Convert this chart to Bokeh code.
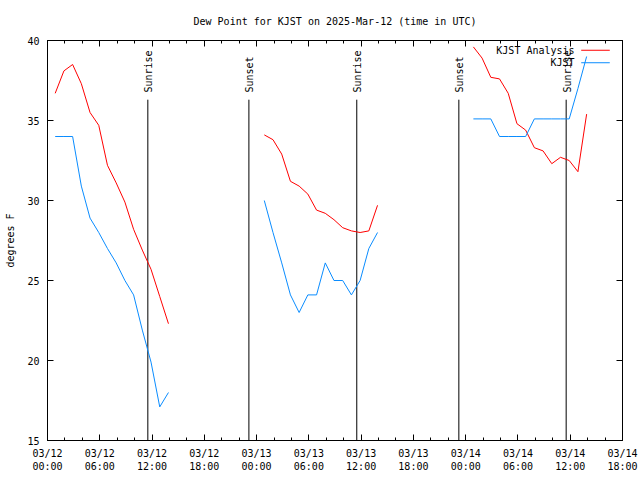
import math
import pandas as pd
from bokeh.plotting import figure
from bokeh.models import Range1d, FixedTicker, LinearAxis
from bokeh.core.properties import value
from bokeh.embed import file_html
from bokeh.resources import INLINE

# ---------------- data ----------------
START = pd.Timestamp("2025-03-12 00:00")

times_day1 = ["2025-03-12 00:53", "2025-03-12 01:53", "2025-03-12 02:53", "2025-03-12 03:53",
              "2025-03-12 04:53", "2025-03-12 05:53", "2025-03-12 06:53", "2025-03-12 07:53",
              "2025-03-12 08:53", "2025-03-12 09:53", "2025-03-12 10:53", "2025-03-12 11:53",
              "2025-03-12 12:53", "2025-03-12 13:53"]
times_day2 = ["2025-03-13 00:53", "2025-03-13 01:53", "2025-03-13 02:53", "2025-03-13 03:53",
              "2025-03-13 04:53", "2025-03-13 05:53", "2025-03-13 06:53", "2025-03-13 07:53",
              "2025-03-13 08:53", "2025-03-13 09:53", "2025-03-13 10:53", "2025-03-13 11:53",
              "2025-03-13 12:53", "2025-03-13 13:53"]
times_day3 = ["2025-03-14 00:53", "2025-03-14 01:53", "2025-03-14 02:53", "2025-03-14 03:53",
              "2025-03-14 04:53", "2025-03-14 05:53", "2025-03-14 06:53", "2025-03-14 07:53",
              "2025-03-14 08:53", "2025-03-14 09:53", "2025-03-14 10:53", "2025-03-14 11:53",
              "2025-03-14 12:53", "2025-03-14 13:53"]

analysis_day1 = [36.7, 38.1, 38.5, 37.3, 35.5, 34.7, 32.2, 31.1, 29.9, 28.2, 26.9, 25.7, 24.0, 22.3]
analysis_day2 = [34.1, 33.8, 32.9, 31.2, 30.9, 30.4, 29.4, 29.2, 28.8, 28.3, 28.1, 28.0, 28.1, 29.7]
analysis_day3 = [39.6, 38.9, 37.7, 37.6, 36.7, 34.8, 34.4, 33.3, 33.1, 32.3, 32.7, 32.5, 31.8, 35.4]

obs_day1 = [34.0, 34.0, 34.0, 30.9, 28.9, 28.0, 27.0, 26.1, 25.0, 24.1, 21.9, 19.9, 17.1, 18.0]
obs_day2 = [30.0, 28.0, 26.1, 24.1, 23.0, 24.1, 24.1, 26.1, 25.0, 25.0, 24.1, 25.0, 27.0, 28.0]
obs_day3 = [35.1, 35.1, 35.1, 34.0, 34.0, 34.0, 34.0, 35.1, 35.1, 35.1, 35.1, 35.1, 37.0, 39.0]

sun_times = ["2025-03-12 11:31", "2025-03-12 23:07", "2025-03-13 11:30",
             "2025-03-13 23:13", "2025-03-14 11:32"]
sun_labels = ["Sunrise", "Sunset", "Sunrise", "Sunset", "Sunrise"]

x_tick_hours = [0, 6, 12, 18, 24, 30, 36, 42, 48, 54, 60, 66]
x_tick_labels = ["03/12\n00:00", "03/12\n06:00", "03/12\n12:00", "03/12\n18:00",
                 "03/13\n00:00", "03/13\n06:00", "03/13\n12:00", "03/13\n18:00",
                 "03/14\n00:00", "03/14\n06:00", "03/14\n12:00", "03/14\n18:00"]
y_ticks = [15, 20, 25, 30, 35, 40]

series_names = ["KJST Analysis", "KJST"]
RED = "#ff0000"
BLUE = "#0a8cff"
FONT = "DejaVu Sans Mono"


def hours(ts):
    return list((pd.to_datetime(ts) - START) / pd.Timedelta(hours=1))


# ---------------- figure ----------------
p = figure(width=640, height=480, output_backend="svg", toolbar_location=None,
           x_range=Range1d(0, 66), y_range=Range1d(15, 40),
           min_border_left=47, min_border_right=18, min_border_top=40, min_border_bottom=40,
           title="Dew Point for KJST on 2025-Mar-12 (time in UTC)")
p.background_fill_color = "white"
p.border_fill_color = "white"
p.outline_line_color = "black"
p.outline_line_width = 1
p.grid.visible = False

p.title.text_font = FONT
p.title.text_font_size = "10px"
p.title.text_font_style = "normal"
p.title.align = "center"
p.title.text_color = "black"
p.title.standoff = 27

xt = FixedTicker(ticks=x_tick_hours, minor_ticks=list(range(0, 67, 2)))
yt = FixedTicker(ticks=y_ticks, minor_ticks=[])

xa = p.xaxis[0]
xa.ticker = xt
xa.major_label_overrides = {h: l for h, l in zip(x_tick_hours, x_tick_labels)}
xa.major_label_text_font = FONT
xa.major_label_text_font_size = "10px"
xa.major_label_text_line_height = 1.25
xa.major_label_standoff = 7

ya = p.yaxis[0]
ya.ticker = yt
ya.axis_label = "degrees F"
ya.axis_label_text_font = FONT
ya.axis_label_text_font_size = "10px"
ya.axis_label_text_font_style = "normal"
ya.axis_label_standoff = 8
ya.major_label_text_font = FONT
ya.major_label_text_font_size = "10px"
ya.major_label_standoff = 8

for ax in (xa, ya):
    ax.major_tick_in = 6
    ax.major_tick_out = 0
    ax.minor_tick_in = 3
    ax.minor_tick_out = 0
    ax.axis_line_color = "black"
    ax.major_tick_line_color = "black"
    ax.minor_tick_line_color = "black"
    ax.major_label_text_color = "black"
    ax.axis_label_text_color = "black"

# mirrored tick marks on the top and right edges (no labels)
top = LinearAxis(ticker=FixedTicker(ticks=x_tick_hours, minor_ticks=list(range(0, 67, 2))),
                 major_label_text_font_size="0px", major_label_text_color=None,
                 major_label_standoff=0,
                 major_tick_in=6, major_tick_out=0, minor_tick_in=3, minor_tick_out=0,
                 axis_line_color="black")
right = LinearAxis(ticker=FixedTicker(ticks=y_ticks, minor_ticks=[]),
                   major_label_text_font_size="0px", major_label_text_color=None,
                   major_label_standoff=0,
                   major_tick_in=6, major_tick_out=0, minor_tick_in=3, minor_tick_out=0,
                   axis_line_color="black")
p.add_layout(top, "above")
p.add_layout(right, "right")

# ---------------- sunrise / sunset markers ----------------
sun_x = hours(sun_times)
LINE_TOP = 36.3
LABEL_BASE = 36.75
p.segment(x0=sun_x, y0=[p.y_range.start] * len(sun_x), x1=sun_x, y1=[LINE_TOP] * len(sun_x),
          line_color="black", line_width=1)
p.text(x=sun_x, y=[LABEL_BASE] * len(sun_x), text=sun_labels, angle=math.pi / 2,
       text_align="left", text_baseline="middle", text_font=value(FONT),
       text_font_size="10px", text_color="black", x_offset=1)

# ---------------- series ----------------
for ts, vals in ((times_day1, analysis_day1), (times_day2, analysis_day2), (times_day3, analysis_day3)):
    p.line(hours(ts), vals, line_color=RED, line_width=1)
for ts, vals in ((times_day1, obs_day1), (times_day2, obs_day2), (times_day3, obs_day3)):
    p.line(hours(ts), vals, line_color=BLUE, line_width=1)

# ---------------- legend (gnuplot style: text then sample) ----------------
LEG_TEXT_X = 60.5
LEG_LINE_X0 = 61.26
LEG_LINE_X1 = 64.54
LEG_ROWS = [39.39, 38.61]
p.text(x=[LEG_TEXT_X] * 2, y=LEG_ROWS, text=series_names, text_align="right",
       text_baseline="middle", text_font=value(FONT), text_font_size="10px", text_color="black")
p.segment(x0=[LEG_LINE_X0] * 2, y0=LEG_ROWS, x1=[LEG_LINE_X1] * 2, y1=LEG_ROWS,
          line_color=[RED, BLUE], line_width=1)

open("out.html", "w").write(file_html(p, INLINE))
